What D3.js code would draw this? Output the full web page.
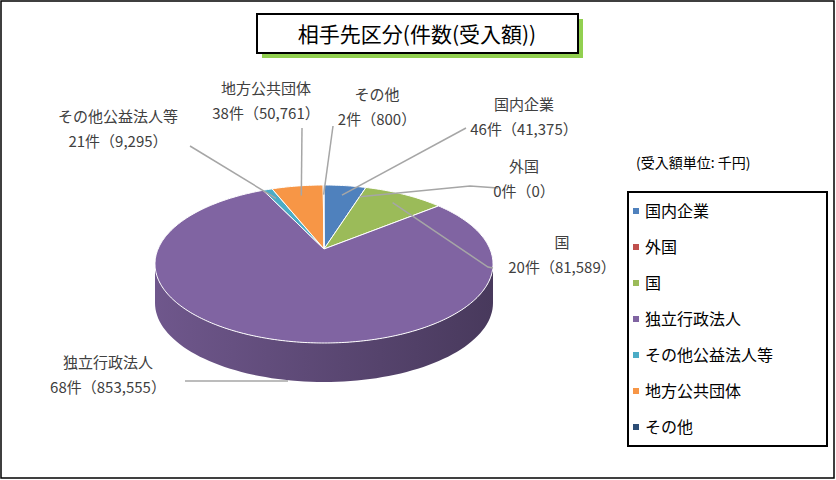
<!DOCTYPE html><html><head><meta charset="utf-8"><script src="https://cdn.jsdelivr.net/npm/d3@7"></script>
<style>body{margin:0;background:#fff}text{font-family:"Noto Sans CJK JP","Noto Sans",sans-serif}</style></head><body>
<svg id="c" width="836" height="480"></svg>
<script>
const categories=["国内企業","外国","国","独立行政法人","その他公益法人等","地方公共団体","その他"];
const counts=[46,0,20,68,21,38,2];
const amounts=[41375,0,81589,853555,9295,50761,800];
const colors=["#4F81BD","#C0504D","#9BBB59","#8064A2","#4BACC6","#F79646","#2C4D75"];
const title="相手先区分(件数(受入額))";
const unitNote="(受入額単位: 千円)";
// label placement (annotation layout): [x,y of label center line1, leader path anchor points]
const labelPos=[
 {x:524,y:110,lx:466,ly:128,kx:466,ky:128},
 {x:524,y:172,lx:498,ly:188,kx:470,ky:186},
 {x:562,y:248,lx:493,ly:268,kx:488,ky:267},
 {x:108,y:368,lx:185,ly:381,kx:288,ky:381},
 {x:118,y:122,lx:190,ly:146,kx:190,ky:146},
 {x:266,y:94,lx:302,ly:128,kx:302,ky:128},
 {x:377,y:100,lx:333,ly:126,kx:333,ky:126}
];
const svg=d3.select("#c");
svg.append("rect").attr("x",1).attr("y",1).attr("width",833).attr("height",477).attr("fill","#fff").attr("stroke","#000").attr("stroke-width",1.5);
// title
svg.append("rect").attr("x",262).attr("y",19).attr("width",321).attr("height",39).attr("fill","#92D050");
svg.append("rect").attr("x",257).attr("y",14).attr("width",321).attr("height",39).attr("fill","#fff").attr("stroke","#000").attr("stroke-width",2);
svg.append("text").attr("x",417).attr("y",42).attr("text-anchor","middle").attr("font-size",21).attr("fill","#000").text(title);

const cx=324,cy=264,rx=169,ry=79,depth=39,ax=324,ay=249;
const pie=d3.pie().sort(null).value(d=>d)(amounts);
const pt=(a,dy=0)=>[cx+rx*Math.sin(a),cy-ry*Math.cos(a)+dy];
const defs=svg.append("defs");
// sides
pie.forEach((p,i)=>{
  const a0=Math.max(p.startAngle,Math.PI/2),a1=Math.min(p.endAngle,3*Math.PI/2);
  if(a1<=a0)return;
  const g=defs.append("linearGradient").attr("id","g"+i).attr("gradientUnits","userSpaceOnUse").attr("x1",cx-rx).attr("x2",cx+rx).attr("y1",0).attr("y2",0);
  const c=d3.color(colors[i]);
  g.append("stop").attr("offset",0).attr("stop-color",c.darker(0.4));
  g.append("stop").attr("offset",1).attr("stop-color",c.darker(1.6));
  const n=80,top=[],bot=[];
  for(let k=0;k<=n;k++){const a=a0+(a1-a0)*k/n;top.push(pt(a));bot.push(pt(a,depth));}
  svg.append("path").attr("d","M"+top.map(q=>q.join(",")).join("L")+"L"+bot.reverse().map(q=>q.join(",")).join("L")+"Z").attr("fill",`url(#g${i})`);
});
// tops
pie.forEach((p,i)=>{
  if(p.endAngle-p.startAngle<=0)return;
  const n=Math.max(4,Math.ceil((p.endAngle-p.startAngle)*60)),pts=[[ax,ay]];
  for(let k=0;k<=n;k++)pts.push(pt(p.startAngle+(p.endAngle-p.startAngle)*k/n));
  svg.append("path").attr("d","M"+pts.map(q=>q.join(",")).join("L")+"Z").attr("fill",colors[i]).attr("stroke","#fff").attr("stroke-width",1).attr("stroke-linejoin","round");
});
// labels
pie.forEach((p,i)=>{
  const L=labelPos[i],m=(p.startAngle+p.endAngle)/2;
  let e=pt(m);e=[ax+(e[0]-ax)*0.85,ay+(e[1]-ay)*0.85];
  if(i===3)e=[L.kx,L.ky];
  svg.append("polyline").attr("points",[[L.lx,L.ly],[L.kx,L.ky],e].map(q=>q.join(",")).join(" ")).attr("fill","none").attr("stroke","#A6A6A6").attr("stroke-width",1.5);
  const t=svg.append("text").attr("text-anchor","middle").attr("font-size",15).attr("fill","#404040");
  t.append("tspan").attr("x",L.x).attr("y",L.y).text(categories[i]);
  t.append("tspan").attr("x",L.x).attr("y",L.y+25).text(counts[i]+"件（"+d3.format(",")(amounts[i])+"）");
});
// legend
svg.append("text").attr("x",636).attr("y",168).attr("font-size",14).attr("fill","#000").text(unitNote);
svg.append("rect").attr("x",628).attr("y",192).attr("width",199).attr("height",254).attr("fill","#fff").attr("stroke","#000").attr("stroke-width",2);
const ly=d3.scalePoint().domain(categories).range([211,427]);
categories.forEach((c,i)=>{
  svg.append("rect").attr("x",633).attr("y",ly(c)-3).attr("width",6).attr("height",6).attr("fill",colors[i]);
  svg.append("text").attr("x",645).attr("y",ly(c)+6).attr("font-size",16).attr("fill","#000").text(c);
});
</script></body></html>
